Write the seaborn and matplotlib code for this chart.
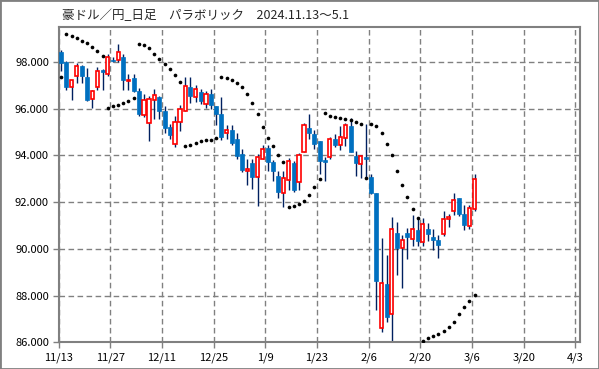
import numpy as np
import pandas as pd
import matplotlib
matplotlib.use('Agg')
import matplotlib.pyplot as plt
import seaborn as sns
from matplotlib.patches import Rectangle

sns.set_style('white')
plt.rcParams['font.family'] = ['Noto Sans CJK JP', 'DejaVu Sans']

title = '豪ドル／円_日足　パラボリック　2024.11.13～5.1'

# daily candles, 11/13 .. 3/6 (trading days)
opens = [98.43, 98.00, 96.93, 97.40, 97.83, 97.37, 96.41, 96.93, 97.64, 97.49,
         98.10, 98.10, 98.21, 97.19, 97.33, 96.76, 95.73, 95.39, 96.37, 96.50,
         95.90, 95.22, 94.49, 95.45, 95.91, 96.91, 96.51, 96.70, 96.21, 96.61,
         96.10, 95.76, 94.98, 95.08, 94.69, 94.05, 93.35, 93.67, 93.10, 93.87,
         94.30, 93.71, 93.14, 92.40, 92.94, 93.66, 92.87, 94.16, 95.19, 94.94,
         94.63, 93.79, 93.94, 94.71, 94.46, 94.76, 95.26, 93.97, 93.64, 93.93,
         93.09, 92.38, 86.60, 88.50, 87.21, 90.70, 90.05, 90.67, 90.44, 90.80,
         90.30, 90.87, 90.53, 90.37, 90.66, 91.27, 91.64, 92.18, 91.50, 90.99,
         91.71]
highs = [98.50, 98.04, 97.23, 97.94, 97.86, 97.76, 96.80, 97.79, 97.69, 98.33,
         98.23, 98.79, 98.33, 97.50, 97.50, 96.90, 96.64, 96.54, 96.83, 96.55,
         96.11, 95.33, 95.69, 96.16, 97.37, 97.37, 97.00, 96.85, 96.75, 96.83,
         96.10, 96.51, 95.29, 95.30, 94.95, 94.26, 93.84, 93.87, 94.05, 94.44,
         94.43, 93.80, 93.33, 93.33, 93.90, 93.76, 94.11, 95.37, 95.79, 95.11,
         94.63, 93.93, 94.80, 94.90, 95.26, 95.37, 95.61, 94.19, 94.04, 95.36,
         93.19, 92.40, 90.46, 89.73, 91.37, 91.16, 90.59, 90.91, 91.44, 91.37,
         91.31, 91.10, 90.84, 90.59, 91.61, 91.48, 92.40, 92.18, 91.86, 91.86,
         93.20]
lows = [97.62, 96.79, 96.36, 97.11, 97.11, 96.33, 96.01, 96.79, 96.80, 97.40,
        98.00, 98.00, 96.80, 96.80, 96.73, 95.69, 95.64, 94.61, 95.57, 95.55,
        94.95, 94.69, 94.38, 95.03, 95.91, 96.26, 96.30, 96.21, 96.04, 96.00,
        95.30, 94.65, 94.69, 94.46, 93.84, 93.31, 92.73, 92.56, 91.85, 93.84,
        93.33, 92.90, 92.19, 91.79, 92.54, 92.45, 92.51, 94.14, 94.69, 94.26,
        93.19, 92.90, 93.83, 94.37, 94.23, 94.40, 94.14, 93.11, 93.04, 93.04,
        92.34, 87.40, 86.46, 86.86, 86.03, 88.88, 88.31, 89.59, 90.13, 90.13,
        90.13, 90.34, 89.96, 89.63, 90.56, 90.95, 91.44, 91.39, 90.79, 90.86,
        91.61]
closes = [97.97, 96.94, 97.23, 97.83, 97.40, 96.36, 96.76, 97.61, 97.56, 98.21,
          98.03, 98.44, 97.23, 97.24, 96.76, 95.76, 96.39, 96.43, 96.57, 95.90,
          95.16, 94.86, 95.45, 95.99, 96.98, 96.54, 96.85, 96.33, 96.65, 96.18,
          95.76, 94.79, 95.08, 94.55, 93.98, 93.38, 93.41, 93.06, 93.95, 94.29,
          93.71, 93.33, 92.44, 93.04, 93.76, 92.51, 94.01, 95.30, 94.97, 94.50,
          93.76, 93.73, 94.71, 94.46, 94.79, 95.29, 94.14, 93.66, 93.97, 93.86,
          92.41, 88.64, 88.54, 87.07, 90.87, 90.02, 90.37, 90.51, 90.87, 90.34,
          91.06, 90.63, 90.39, 90.16, 91.27, 91.38, 92.11, 91.50, 91.03, 91.77,
          92.99]

# parabolic SAR, one dot per day
sar = [97.36, 99.18, 99.10, 99.02, 98.91, 98.81, 98.66, 98.46, 98.25, 96.01,
       96.11, 96.16, 96.23, 96.33, 96.44, 98.79, 98.71, 98.60, 98.35, 98.13,
       97.93, 97.70, 97.45, 97.16, 94.42, 94.46, 94.55, 94.61, 94.65, 94.68,
       94.75, 97.37, 97.32, 97.22, 97.11, 96.94, 96.65, 96.26, 95.79, 95.22,
       94.76, 94.40, 94.04, 93.72, 91.80, 91.84, 91.92, 92.05, 92.31, 92.64,
       93.01, 95.80, 95.71, 95.65, 95.60, 95.54, 95.50, 95.43, 95.36, 93.03,
       95.36, 95.27, 94.97, 94.47, 94.00, 93.35, 92.75, 92.24, 91.72, 91.32,
       86.05, 86.18, 86.26, 86.36, 86.49, 86.65, 86.86, 87.20, 87.50, 87.76,
       88.05]

tick_labels = ['11/13', '11/27', '12/11', '12/25', '1/9', '1/23', '2/6',
               '2/20', '3/6', '3/20', '4/3']
y_ticks = [86, 88, 90, 92, 94, 96, 98]

df = pd.DataFrame({'open': opens, 'high': highs, 'low': lows,
                   'close': closes, 'sar': sar})
df['x'] = np.arange(len(df)) + 0.5
up = df['close'] >= df['open']

fig = plt.figure(figsize=(5.99, 3.69), dpi=100)
ax = fig.add_axes([0.098, 0.072, 0.871, 0.855])

ax.vlines(df['x'], df['low'], df['high'], color='#002060', lw=1.0, zorder=2)

body_lo = df[['open', 'close']].min(axis=1)
body_h = (df['close'] - df['open']).abs().clip(lower=0.04)
dn = ~up
ax.bar(df['x'][dn], body_h[dn], bottom=body_lo[dn], width=0.78,
       color='#0070C0', edgecolor='#0070C0', lw=0.5, zorder=3)
ax.bar(df['x'][up], body_h[up], bottom=body_lo[up], width=0.62,
       color='white', edgecolor='#FF0000', lw=1.2, zorder=3)

sns.scatterplot(data=df, x='x', y='sar', ax=ax, color='black', s=7,
                linewidth=0, zorder=4, legend=False)

ax.set_xlim(0, 101)
ax.set_ylim(86, 99.5)
ax.set_xticks(np.arange(0, 101, 10))
ax.set_xticklabels(tick_labels)
ax.set_yticks(y_ticks)
ax.set_yticklabels([f'{v:.3f}' for v in y_ticks])
ax.set_xlabel('')
ax.set_ylabel('')

ax.grid(True, color='#808080', lw=1.0, linestyle=(0, (4, 2.5)), zorder=0)
ax.set_axisbelow(True)
for s in ax.spines.values():
    s.set_color('#808080')
    s.set_linewidth(1.5)
ax.tick_params(axis='both', length=4, width=1, color='#808080',
               labelsize=8, labelcolor='black', pad=3, direction='out',
               bottom=True, left=True)

fig.text(0.104, 0.958, title, fontsize=9, ha='left', va='center')
fig.patches.append(Rectangle((0, 0), 1, 1, transform=fig.transFigure,
                             fill=False, edgecolor='#808080', lw=2))

fig.savefig('out.png', dpi=100)
